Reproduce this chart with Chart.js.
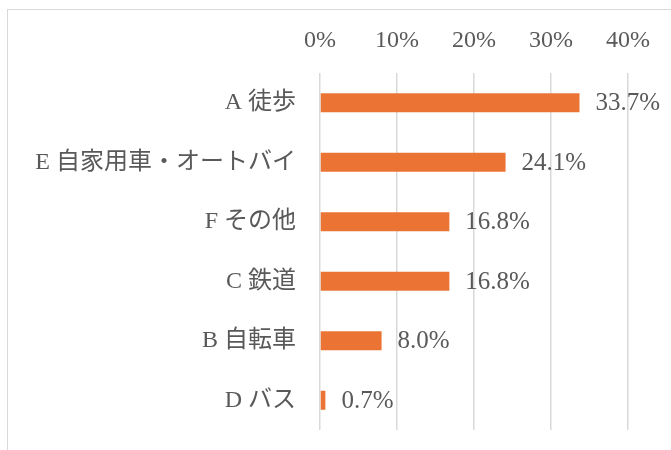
<!DOCTYPE html>
<html><head><meta charset="utf-8">
<script src="https://cdn.jsdelivr.net/npm/chart.js@4"></script>
<style>
html,body{margin:0;padding:0;background:#fff;overflow:hidden;}
#wrap{position:relative;width:671px;height:450px;}
#frame{position:absolute;left:7px;top:9px;width:700px;height:500px;border:1px solid #d9d9d9;box-sizing:border-box;}
canvas{position:absolute;left:0;top:0;}
</style></head>
<body>
<div id="wrap"><div id="frame"></div><canvas id="c" width="671" height="450"></canvas></div>
<script>
const categories = ["A 徒歩", "E 自家用車・オートバイ", "F その他", "C 鉄道", "B 自転車", "D バス"];
const values = [33.7, 24.1, 16.8, 16.8, 8.0, 0.7];
const tickValues = [0, 10, 20, 30, 40];

const FONT = "'Liberation Serif', 'Noto Sans CJK JP', serif";
const TXT = '#595959';

const labelPlugin = {
  id: 'barLabels',
  afterDatasetsDraw(chart) {
    const ctx = chart.ctx;
    const meta = chart.getDatasetMeta(0);
    ctx.save();
    ctx.font = '25px ' + FONT;
    ctx.fillStyle = TXT;
    ctx.textAlign = 'left';
    ctx.textBaseline = 'middle';
    meta.data.forEach((bar, i) => {
      ctx.fillText(values[i].toFixed(1) + '%', bar.x + 16, bar.y + 1);
    });
    ctx.restore();
  }
};

new Chart(document.getElementById('c'), {
  type: 'bar',
  data: {
    labels: categories,
    datasets: [{
      data: values,
      backgroundColor: '#EB7434',
      borderWidth: 0,
      categoryPercentage: 1,
      barPercentage: 0.32
    }]
  },
  options: {
    indexAxis: 'y',
    responsive: false,
    animation: false,
    events: [],
    layout: { padding: { left: 0, right: 43, top: 0, bottom: 20 } },
    plugins: { legend: { display: false }, tooltip: { enabled: false } },
    scales: {
      x: {
        position: 'top',
        min: 0, max: 40,
        afterBuildTicks(scale) { scale.ticks = tickValues.map(v => ({ value: v })); },
        afterFit(scale) { scale.height = 73; },
        ticks: {
          padding: 18,
          color: TXT,
          font: { family: FONT, size: 24 },
          callback: v => v + '%'
        },
        grid: { color: '#d9d9d9', lineWidth: 1.5, drawTicks: false },
        border: { display: false }
      },
      y: {
        afterFit(scale) { scale.width = 320; scale.paddingTop = 0; scale.paddingBottom = 0; },
        ticks: {
          padding: 24,
          color: TXT,
          font: { family: FONT, size: 24 }
        },
        grid: { display: false, drawTicks: false },
        border: { display: false }
      }
    }
  },
  plugins: [labelPlugin]
});
</script>
</body></html>
